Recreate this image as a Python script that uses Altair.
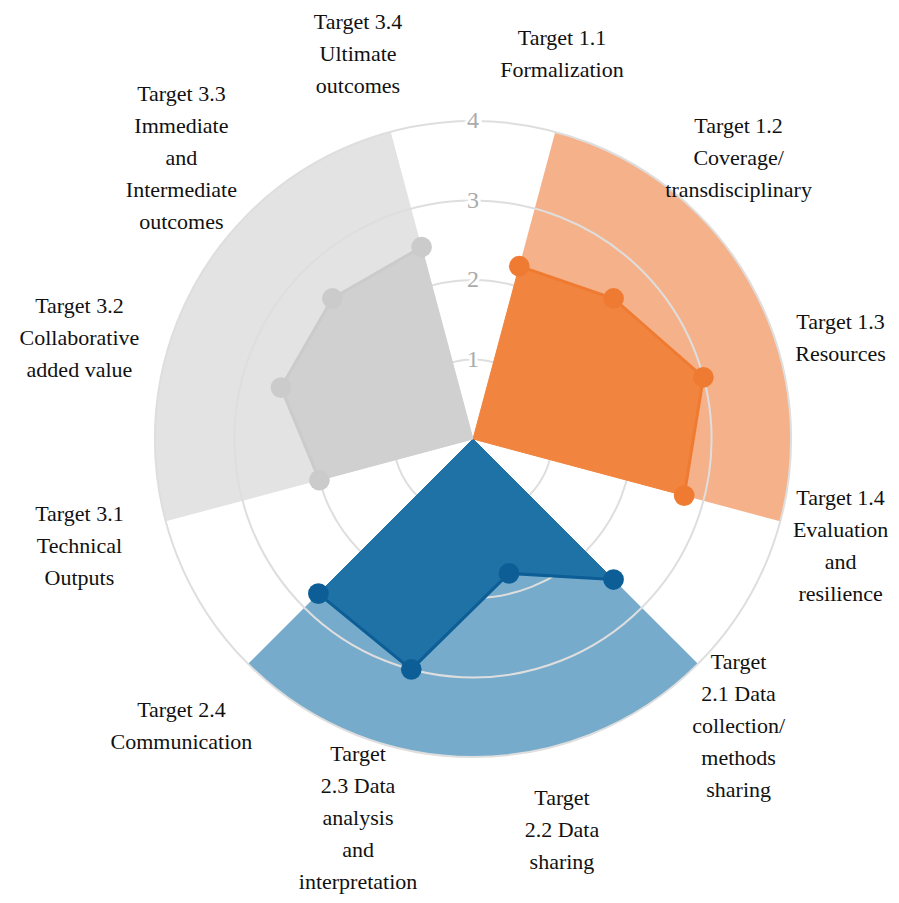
import math
import altair as alt
import pandas as pd

# ---------------- data ----------------
targets = ["1.1", "1.2", "1.3", "1.4", "2.1", "2.2", "2.3", "2.4", "3.1", "3.2", "3.3", "3.4"]
groups = ["1", "1", "1", "1", "2", "2", "2", "2", "3", "3", "3", "3"]
scores = [2.25, 2.5, 3.0, 2.75, 2.5, 1.75, 3.0, 2.75, 2.0, 2.5, 2.5, 2.5]
labels = [
    "Target 1.1\nFormalization",
    "Target 1.2\nCoverage/\ntransdisciplinary",
    "Target 1.3\nResources",
    "Target 1.4\nEvaluation\nand\nresilience",
    "Target\n2.1 Data\ncollection/\nmethods\nsharing",
    "Target\n2.2 Data\nsharing",
    "Target\n2.3 Data\nanalysis\nand\ninterpretation",
    "Target 2.4\nCommunication",
    "Target 3.1\nTechnical\nOutputs",
    "Target 3.2\nCollaborative\nadded value",
    "Target 3.3\nImmediate\nand\nIntermediate\noutcomes",
    "Target 3.4\nUltimate\noutcomes",
]
ring_values = [1, 2, 3, 4]
ring_labels = ["1", "2", "3", "4"]
group_names = ["1", "2", "3"]

# ---------------- layout / style ----------------
S = 79.5            # pixels per unit
W, H = 883, 887     # plot area
CX, CY = 465, 431   # centre position inside plot area (px)
LABEL_RX = 394 / S  # label ellipse radii (data units)
LABEL_RY = 402 / S
LABEL_DX = -13 / S  # label ring centre offset
LABEL_DY = -3 / S
FS = 22
LH = 32
BOTTOM_PAD = 13     # px kept free below the last text line
MAX_R = 4

wedge_colors = ["#F5B28A", "#76ABCB", "#E3E3E3"]
poly_colors = ["#F1853F", "#1F72A5", "#D0D0D0"]
point_colors = ["#EF7B32", "#0D5E96", "#CBCBCB"]

n = len(targets)
angles = [15 + 30 * i for i in range(n)]   # axis directions (deg, clockwise from top)

YMIN = -(H - CY) / S
xs = alt.Scale(domain=[-CX / S, (W - CX) / S], nice=False, zero=False)
ys = alt.Scale(domain=[YMIN, CY / S], nice=False, zero=False)
ts = alt.Scale(domain=[0, 360], range=[0, 2 * math.pi])
rs = alt.Scale(type="linear", domain=[0, MAX_R], range=[0, MAX_R * S], zero=True)

cx = alt.XDatum(0, type="quantitative", scale=xs, axis=None)
cy = alt.YDatum(0, type="quantitative", scale=ys, axis=None)

# wedges (one per group)
wedge_df = pd.DataFrame({
    "g": group_names,
    "a0": [angles[0], angles[4], angles[8]],
    "a1": [angles[3], angles[7], angles[11]],
    "r": [MAX_R] * 3,
})
wedges = alt.Chart(wedge_df).mark_arc(strokeWidth=0).encode(
    x=cx, y=cy,
    theta=alt.Theta("a0:Q", scale=ts, stack=False),
    theta2="a1:Q",
    radius=alt.Radius("r:Q", scale=rs),
    color=alt.Color("g:N", scale=alt.Scale(domain=group_names, range=wedge_colors), legend=None),
)

# grid rings
ring_df = pd.DataFrame({"r": ring_values, "a0": [0] * 4, "a1": [360] * 4, "lab": ring_labels})
rings = alt.Chart(ring_df).mark_arc(filled=False, stroke="#DEDEDE", strokeWidth=2).encode(
    x=cx, y=cy,
    theta=alt.Theta("a0:Q", scale=ts, stack=False),
    theta2="a1:Q",
    radius=alt.Radius("r:Q", scale=rs),
)

# polygons
pts = pd.DataFrame({"t": targets, "g": groups, "v": scores, "ang": angles})
pts["k"] = pts.groupby("g").cumcount() + 1
centers = pd.DataFrame({"t": ["c1", "c2", "c3"], "g": group_names, "v": [0, 0, 0],
                        "ang": [0, 0, 0], "k": [0, 0, 0]})
poly_df = pd.concat([centers, pts], ignore_index=True)

xy = dict(
    x=alt.X("px:Q", scale=xs, axis=None),
    y=alt.Y("py:Q", scale=ys, axis=None),
)

layers = [wedges, rings]
for gi, g in enumerate(group_names):
    base = alt.Chart(poly_df).transform_filter(alt.datum.g == g).transform_calculate(
        px="datum.v * sin(datum.ang * PI / 180)",
        py="datum.v * cos(datum.ang * PI / 180)",
    )
    poly = base.mark_line(interpolate="linear-closed", fill=poly_colors[gi],
                          stroke=poly_colors[gi], strokeWidth=1).encode(
        order=alt.Order("k:Q"), **xy)
    edge = base.transform_filter(alt.datum.k > 0).mark_line(
        stroke=point_colors[gi], strokeWidth=3).encode(order=alt.Order("k:Q"), **xy)
    dots = base.transform_filter(alt.datum.k > 0).mark_circle(
        size=430, opacity=1, color=point_colors[gi]).encode(**xy)
    layers += [poly, edge, dots]

# ring value labels
ring_text_base = alt.Chart(ring_df).encode(
    x=cx,
    y=alt.Y("r:Q", scale=ys, axis=None),
    text="lab:N",
)
halo = ring_text_base.mark_text(font="Liberation Serif", fontSize=24, stroke="white",
                                strokeWidth=6, fill="white", baseline="middle", align="center")
ring_txt = ring_text_base.mark_text(font="Liberation Serif", fontSize=24, color="#ABABAB",
                                    baseline="middle", align="center")
layers += [halo, ring_txt]

# target labels (multi-line blocks centred on their anchor, kept inside the view)
lab_df = pd.DataFrame({"lab": labels, "ang": angles,
                       "nl": [len(s.split("\n")) for s in labels]})
lab = alt.Chart(lab_df).transform_calculate(
    px=f"{LABEL_DX} + {LABEL_RX} * sin(datum.ang * PI / 180)",
    py0=f"{LABEL_DY} + {LABEL_RY} * cos(datum.ang * PI / 180) + (datum.nl - 1) / 2 * {LH / S}",
).transform_calculate(
    py=f"max(datum.py0, {YMIN + BOTTOM_PAD / S} + (datum.nl - 1) * {LH / S})",
).mark_text(font="Liberation Serif", fontSize=FS, lineHeight=LH, lineBreak="\n",
            color="#111111", align="center", baseline="middle").encode(
    text="lab:N", **xy)
layers.append(lab)

chart = alt.layer(*layers).properties(
    width=W, height=H, autosize="none", padding=0, background="white"
).configure_view(strokeWidth=0)

chart.save("out.html", embed_options={"renderer": "svg", "actions": False})
